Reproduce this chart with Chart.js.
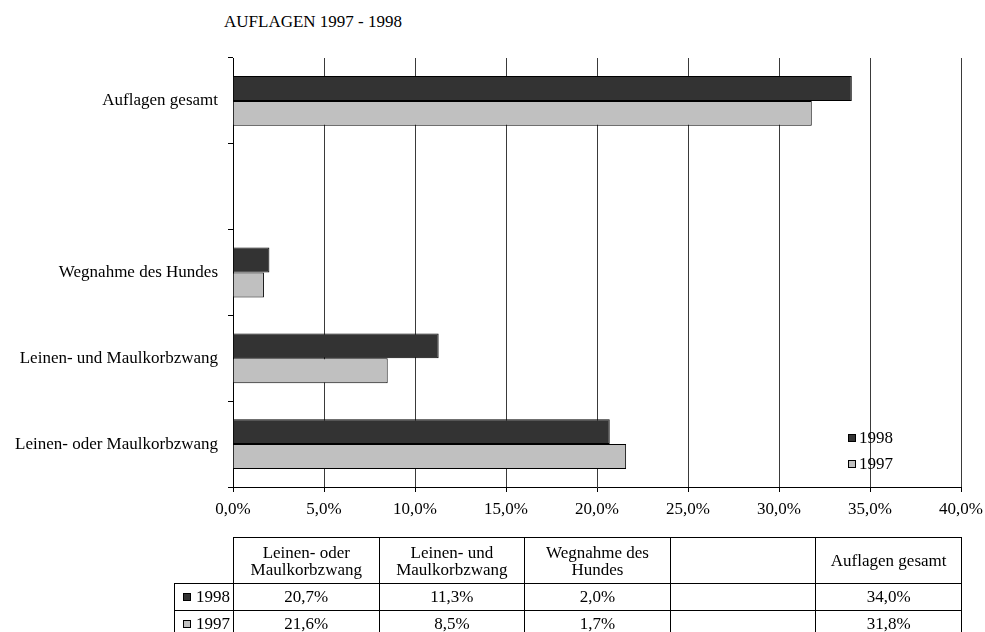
<!DOCTYPE html>
<html>
<head>
<meta charset="utf-8">
<script src="https://cdn.jsdelivr.net/npm/chart.js@4/dist/chart.umd.min.js"></script>
<style>
  html, body { margin: 0; background: #fff; overflow: hidden; font-family: "Liberation Serif", "DejaVu Serif", serif; }
  #wrap { position: relative; width: 985px; height: 632px; overflow: hidden; }
  #chartBox { position: absolute; left: 0; top: 0; width: 985px; height: 540px; }
  #title { position: absolute; left: 224px; top: 12px; font-size: 17px; color: #000; }
  #tbl { position: absolute; left: 174px; top: 537px; border-collapse: collapse; font-size: 17px; color: #000; table-layout: fixed; }
  #tbl td { border: 1px solid #000; text-align: center; padding: 0; }
  #tbl tr.head td { height: 45px; line-height: 17px; }
  #tbl tr.row td { height: 26px; }
  #tbl td.blank { border-top: none; border-left: none; }
  #tbl td.key { text-align: right; padding-right: 3px; white-space: nowrap; }
  .sw { display: inline-block; width: 6px; height: 6px; border: 1px solid #000; margin-right: 5px; vertical-align: 1px; }
</style>
</head>
<body>
<div id="wrap">
  <div id="title">AUFLAGEN 1997 - 1998</div>
  <div id="chartBox"><canvas id="myChart"></canvas></div>
  <table id="tbl"></table>
</div>
<script>
// Daten (Reihenfolge wie in der Tabelle, im Diagramm von unten nach oben)
const categories = ['Leinen- oder Maulkorbzwang', 'Leinen- und Maulkorbzwang', 'Wegnahme des Hundes', '', 'Auflagen gesamt'];
const headerLines = [['Leinen- oder', 'Maulkorbzwang'], ['Leinen- und', 'Maulkorbzwang'], ['Wegnahme des', 'Hundes'], [], ['Auflagen gesamt']];
const values1998 = [20.7, 11.3, 2.0, null, 34.0];
const values1997 = [21.6, 8.5, 1.7, null, 31.8];
const seriesNames = ['1998', '1997'];
const seriesColors = ['#333333', '#c0c0c0'];
const xTicks = [0, 5, 10, 15, 20, 25, 30, 35, 40];

const fmt = v => v.toFixed(1).replace('.', ',') + '%';
const serif = '"Liberation Serif", "DejaVu Serif", serif';

// Legende im Diagramm unten rechts
const innerLegend = {
  id: 'innerLegend',
  afterDraw(chart) {
    const c = chart.ctx, a = chart.chartArea;
    c.save();
    c.font = '17px ' + serif;
    c.textBaseline = 'middle';
    chart.data.datasets.forEach((ds, i) => {
      const x = a.right - 113, y = a.bottom - 49 + i * 26;
      c.fillStyle = ds.backgroundColor;
      c.fillRect(x, y - 4, 7, 7);
      c.strokeStyle = '#000';
      c.lineWidth = 1;
      c.strokeRect(x + 0.5, y - 3.5, 7, 7);
      c.fillStyle = '#000';
      c.fillText(ds.label, x + 11, y + 1);
    });
    c.restore();
  }
};

const ctx = document.getElementById('myChart');
new Chart(ctx, {
  type: 'bar',
  data: {
    labels: categories,
    datasets: [
      { label: seriesNames[0], data: values1998, backgroundColor: seriesColors[0], borderColor: '#000', borderWidth: 1 },
      { label: seriesNames[1], data: values1997, backgroundColor: seriesColors[1], borderColor: '#000', borderWidth: 1 }
    ]
  },
  options: {
    indexAxis: 'y',
    responsive: true,
    maintainAspectRatio: false,
    animation: false,
    datasets: { bar: { categoryPercentage: 0.58, barPercentage: 1 } },
    layout: { padding: { top: 58, right: 24, bottom: 13, left: 0 } },
    plugins: { legend: { display: false }, tooltip: { enabled: false }, title: { display: false } },
    scales: {
      x: {
        min: 0, max: 40,
        afterFit(s) { s.height = 40; s.paddingLeft = 0; s.paddingRight = 0; },
        afterBuildTicks(s) { s.ticks = xTicks.map(v => ({ value: v })); },
        ticks: { color: '#000', font: { family: serif, size: 17 }, padding: 7, callback: v => fmt(v), maxRotation: 0 },
        grid: { color: '#3a3a3a', lineWidth: 1, tickLength: 5, tickColor: '#000' },
        border: { color: '#000', width: 1 }
      },
      y: {
        reverse: true,
        afterFit(s) { s.width = 233; },
        ticks: { color: '#000', font: { family: serif, size: 17 }, padding: 10 },
        grid: { drawOnChartArea: false, offset: true, tickLength: 5, tickColor: '#000' },
        border: { color: '#000', width: 1 }
      }
    }
  },
  plugins: [innerLegend]
});

// Datentabelle unter dem Diagramm
const tbl = document.getElementById('tbl');
const colW = 145.6;
let html = '<colgroup><col style="width:59px">' + categories.map(() => '<col style="width:' + colW + 'px">').join('') + '</colgroup>';
html += '<tr class="head"><td class="blank"></td>' + headerLines.map(l => '<td>' + l.join('<br>') + '</td>').join('') + '</tr>';
[values1998, values1997].forEach((vals, i) => {
  html += '<tr class="row"><td class="key"><span class="sw" style="background:' + seriesColors[i] + '"></span>' + seriesNames[i] + '</td>' +
    vals.map(v => '<td>' + (v == null ? '' : fmt(v)) + '</td>').join('') + '</tr>';
});
tbl.innerHTML = html;
</script>
</body>
</html>
